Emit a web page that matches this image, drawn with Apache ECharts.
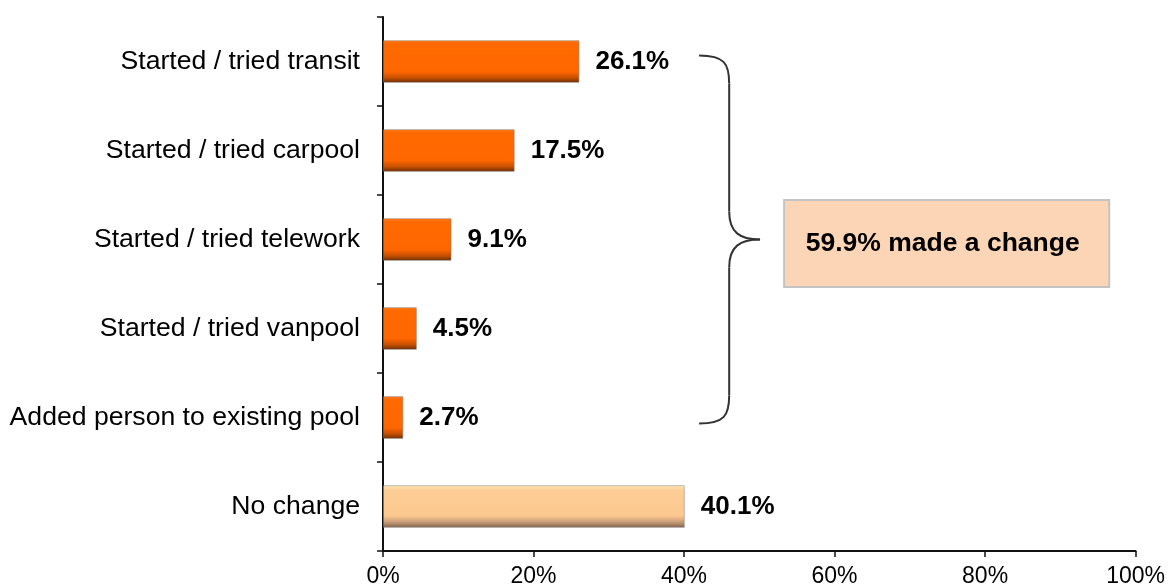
<!DOCTYPE html>
<html>
<head>
<meta charset="utf-8">
<script src="https://cdn.jsdelivr.net/npm/echarts@6/dist/echarts.min.js"></script>
<style>
html,body{margin:0;padding:0;background:#fff;}
#main{width:1168px;height:588px;}
</style>
</head>
<body>
<div id="main"></div>
<script>
const categories = ['Started / tried transit', 'Started / tried carpool', 'Started / tried telework', 'Started / tried vanpool', 'Added person to existing pool', 'No change'];
const values = [26.1, 17.5, 9.1, 4.5, 2.7, 40.1];
const xTicks = [0, 20, 40, 60, 80, 100];
const bracketFirst = 'Started / tried transit';
const bracketLast = 'Added person to existing pool';
const summaryText = '59.9% made a change';

const FONT = "'Liberation Sans', Arial, sans-serif";
const orange = new echarts.graphic.LinearGradient(0, 0, 0, 1, [
  {offset: 0, color: '#FF7C22'},
  {offset: 0.08, color: '#FF6A00'},
  {offset: 0.74, color: '#FF6600'},
  {offset: 0.88, color: '#C65000'},
  {offset: 1, color: '#6A2C00'}
]);
const peach = new echarts.graphic.LinearGradient(0, 0, 0, 1, [
  {offset: 0, color: '#FFE6B4'},
  {offset: 0.12, color: '#FDCD96'},
  {offset: 0.72, color: '#FCC890'},
  {offset: 0.87, color: '#C49A74'},
  {offset: 1, color: '#7E6250'}
]);

const chart = echarts.init(document.getElementById('main'), null, {renderer: 'canvas'});
chart.setOption({
  animation: false,
  grid: {left: 383, right: 31, top: 17, bottom: 37, containLabel: false},
  xAxis: {
    type: 'value', min: 0, max: 100, interval: 20,
    axisLine: {show: true, lineStyle: {color: '#111', width: 2}},
    axisTick: {show: true, length: 6, lineStyle: {color: '#111', width: 1.5}},
    splitLine: {show: false},
    axisLabel: {
      margin: 14, color: '#000', fontSize: 23, fontFamily: FONT,
      formatter: v => xTicks.includes(v) ? v + '%' : ''
    }
  },
  yAxis: {
    type: 'category', data: categories, inverse: true,
    axisLine: {show: true, lineStyle: {color: '#111', width: 2}},
    axisTick: {show: true, length: 6, lineStyle: {color: '#111', width: 1.5}},
    axisLabel: {margin: 23, color: '#000', fontSize: 26.6, fontFamily: FONT}
  },
  series: [{
    type: 'bar',
    barWidth: '48%',
    data: values.map((v, i) => ({
      value: v,
      itemStyle: {color: categories[i] === 'No change' ? peach : orange}
    })),
    itemStyle: {borderColor: 'rgba(120,120,120,0.45)', borderWidth: 1},
    label: {
      show: true, position: 'right', distance: 16,
      formatter: p => p.value + '%',
      color: '#000', fontSize: 26, fontWeight: 'bold', fontFamily: FONT
    }
  }]
});

function drawAnnotations() {
  const px = v => chart.convertToPixel({xAxisIndex: 0}, v);
  const py = c => chart.convertToPixel({yAxisIndex: 0}, c);
  const yTop = py(bracketFirst) - 6;
  const yBot = py(bracketLast) + 6;
  const yMid = (yTop + yBot) / 2;
  const x0 = px(42), x1 = px(46), x2 = px(50.1);
  const r = 28;
  const ls = {stroke: '#333', lineWidth: 2, fill: null};
  const bx0 = px(53.3), bx1 = px(96.5);
  const bh = 87, bcy = yMid + 4;
  chart.setOption({
    graphic: [
      {type: 'bezierCurve', shape: {x1: x0, y1: yTop, cpx1: x0 + (x1 - x0) * 0.85, cpy1: yTop, cpx2: x1, cpy2: yTop + r * 0.3, x2: x1, y2: yTop + r}, style: ls},
      {type: 'line', shape: {x1: x1, y1: yTop + r, x2: x1, y2: yMid - r}, style: ls},
      {type: 'bezierCurve', shape: {x1: x1, y1: yMid - r, cpx1: x1, cpy1: yMid - r * 0.25, cpx2: x1 + (x2 - x1) * 0.35, cpy2: yMid, x2: x2, y2: yMid}, style: ls},
      {type: 'bezierCurve', shape: {x1: x2, y1: yMid, cpx1: x1 + (x2 - x1) * 0.35, cpy1: yMid, cpx2: x1, cpy2: yMid + r * 0.25, x2: x1, y2: yMid + r}, style: ls},
      {type: 'line', shape: {x1: x1, y1: yMid + r, x2: x1, y2: yBot - r}, style: ls},
      {type: 'bezierCurve', shape: {x1: x1, y1: yBot - r, cpx1: x1, cpy1: yBot - r * 0.3, cpx2: x0 + (x1 - x0) * 0.85, cpy2: yBot, x2: x0, y2: yBot}, style: ls},
      {type: 'rect', shape: {x: bx0, y: bcy - bh / 2, width: bx1 - bx0, height: bh}, style: {fill: '#FBD5B5', stroke: '#C4C4C4', lineWidth: 2}},
      {type: 'text', x: (bx0 + bx1) / 2 - 4, y: bcy, style: {text: summaryText, font: "bold 26.5px 'Liberation Sans', Arial, sans-serif", fill: '#000', align: 'center', verticalAlign: 'middle'}}
    ]
  });
}
drawAnnotations();
</script>
</body>
</html>
